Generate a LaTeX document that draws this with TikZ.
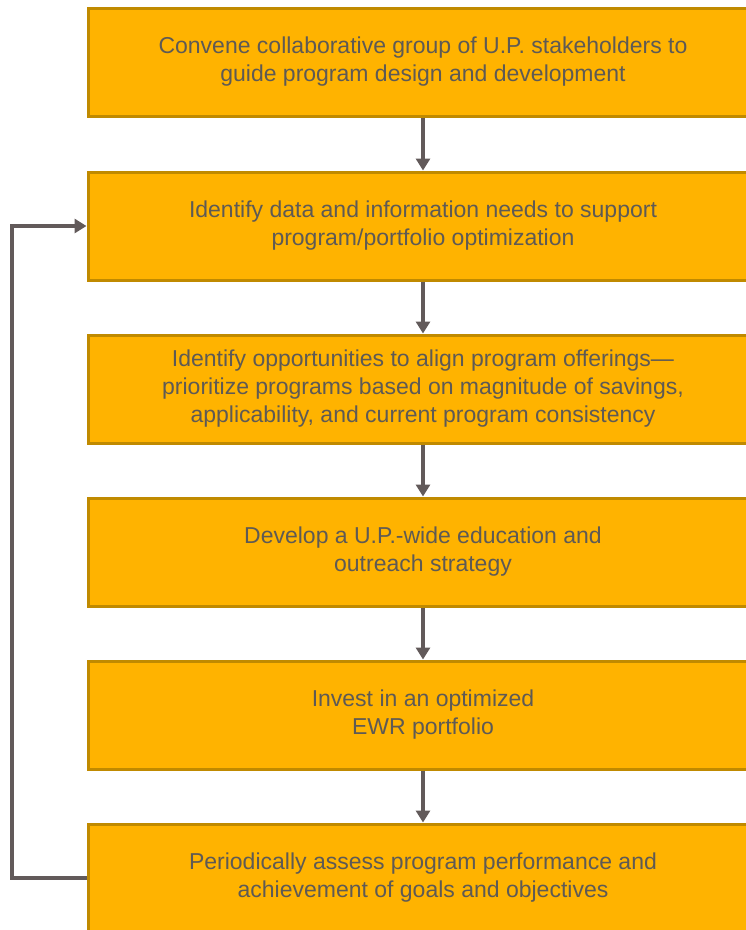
\documentclass[tikz,border=0pt]{standalone}
\usepackage{fontspec}
\setmainfont{Liberation Sans}
\usetikzlibrary{arrows.meta}
\definecolor{boxfill}{HTML}{FFB300}
\definecolor{boxedge}{HTML}{C08A00}
\definecolor{txtgray}{HTML}{5E5A55}
\definecolor{linegray}{HTML}{625A5A}
\tikzset{
  stepbox/.style={draw=boxedge,line width=3pt,fill=boxfill,minimum width=670pt,
    minimum height=108pt,inner sep=0pt,align=center,text=txtgray,
    font=\fontsize{23pt}{28pt}\selectfont},
  flow/.style={draw=linegray,line width=3.5pt,-{Triangle[width=14pt,length=12pt]}}
}
\begin{document}
\begin{tikzpicture}[x=1pt,y=-1pt]
  \useasboundingbox (0,0) rectangle (746,930);
  \node[stepbox] (convene) at (423,62) {Convene collaborative group of U.P. stakeholders to\\guide program design and development};
  \node[stepbox] (needs) at (423,226) {Identify data and information needs to support\\program/portfolio optimization};
  \node[stepbox] (align) at (423,389) {Identify opportunities to align program offerings---\\prioritize programs based on magnitude of savings,\\applicability, and current program consistency};
  \node[stepbox] (outreach) at (423,552) {Develop a U.P.-wide education and\\outreach strategy};
  \node[stepbox] (invest) at (423,715) {Invest in an optimized\\EWR portfolio};
  \node[stepbox] (assess) at (423,878) {Periodically assess program performance and\\achievement of goals and objectives};

  \coordinate (loopbot) at (12,878);
  \coordinate (looptop) at (12,226);

\draw[flow] (convene) -- (needs);
\draw[flow] (needs) -- (align);
\draw[flow] (align) -- (outreach);
\draw[flow] (outreach) -- (invest);
\draw[flow] (invest) -- (assess);
\draw[flow] (assess.west) -- (loopbot) -- (looptop) -- (needs.west);
\end{tikzpicture}
\end{document}
